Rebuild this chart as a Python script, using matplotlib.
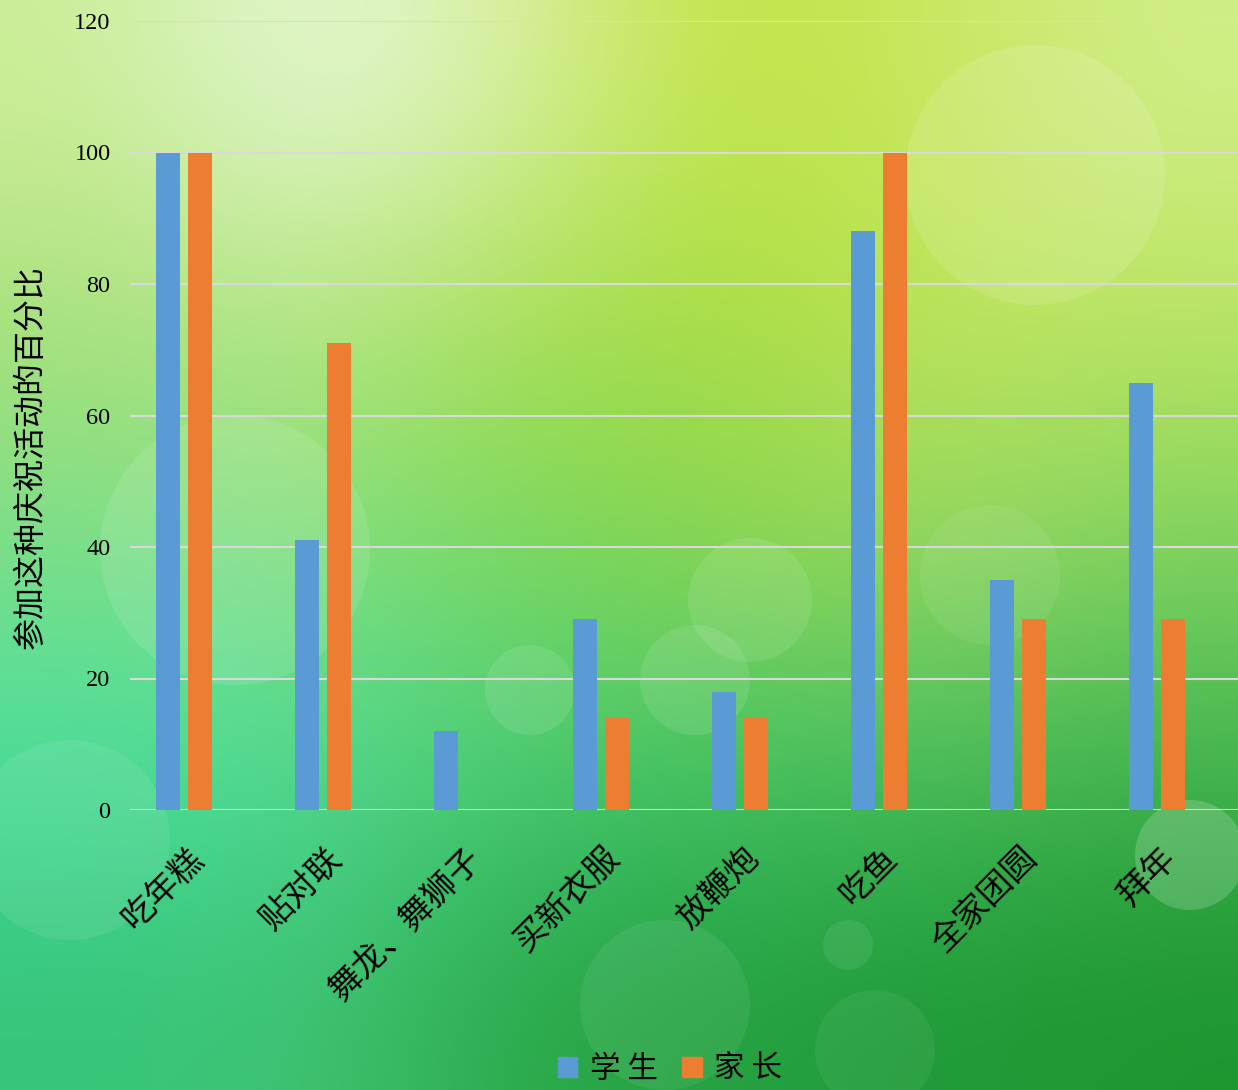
import numpy as np
import matplotlib
matplotlib.use('Agg')
from matplotlib import pyplot as plt
from matplotlib.patches import Ellipse, Patch
from matplotlib.transforms import ScaledTranslation

plt.rcParams['font.family'] = ['Noto Sans CJK SC', 'DejaVu Sans']

categories = ['吃年糕', '贴对联', '舞龙、舞狮子', '买新衣服', '放鞭炮', '吃鱼', '全家团圆', '拜年']
students = [100, 41, 12, 29, 18, 88, 35, 65]
parents = [100, 71, 0, 14, 14, 100, 29, 29]
series_names = ['学 生', '家 长']
yticks = [0, 20, 40, 60, 80, 100, 120]

blue = '#5B9BD5'
orange = '#ED7D31'

W, H = 1238, 1090
fig = plt.figure(figsize=(W / 100, H / 100), dpi=100)

# background gradient (green bokeh look), pixel coords
bg = fig.add_axes([0, 0, 1, 1], zorder=-10)
grid = np.array([
    ['#ccee98', '#e6f8da', '#d8f0a4', '#c0e440', '#c8e860', '#d0ee88'],
    ['#a8e078', '#b8e680', '#a8de50', '#a4dc40', '#c0e458', '#bce460'],
    ['#7cde88', '#84e080', '#78d860', '#8cd650', '#9ad864', '#80d460'],
    ['#48e0a0', '#50dc98', '#48cc78', '#40c468', '#48c060', '#40b450'],
    ['#36c478', '#40c474', '#2aa848', '#24a040', '#209a38', '#1e9630'],
])
rgb = np.array([[matplotlib.colors.to_rgb(c) for c in row] for row in grid])
bg.imshow(rgb, extent=[0, W, H, 0], aspect='auto', interpolation='bicubic')
for cx, cy, r, a in [(1035, 175, 130, 0.12), (235, 550, 135, 0.11), (750, 600, 62, 0.10),
                     (695, 680, 55, 0.10), (530, 690, 45, 0.10), (70, 840, 100, 0.08),
                     (665, 1005, 85, 0.07), (1190, 855, 55, 0.18), (848, 945, 25, 0.08),
                     (875, 1050, 60, 0.06), (990, 575, 70, 0.07)]:
    bg.add_patch(Ellipse((cx, cy), 2 * r, 2 * r, color='white', alpha=a, lw=0))
bg.set_xlim(0, W)
bg.set_ylim(H, 0)
bg.axis('off')

ax = fig.add_axes([130 / W, 1 - 810 / H, 1 - 130 / W, (810 - 21) / H])
ax.patch.set_alpha(0)
x = np.arange(len(categories))
w = 0.172
ax.bar(x - 0.112, students, w, color=blue, zorder=3)
ax.bar(x + 0.112, parents, w, color=orange, zorder=3)
ax.set_xlim(-54 / 139, (W - 184) / 139)
ax.set_ylim(0, 120)
ax.set_yticks(yticks)
ax.set_yticklabels([str(t) for t in yticks], family='Liberation Serif', fontsize=17.5)
ax.grid(axis='y', color='#d9d9d9', lw=1.5, zorder=1)
ax.set_axisbelow(True)
for s in ax.spines.values():
    s.set_visible(False)
ax.tick_params(axis='y', length=0, pad=14)
ax.tick_params(axis='x', length=0, pad=31)
ax.set_xticks(x)
ax.set_xticklabels(categories, rotation=45, ha='right', va='center', rotation_mode='anchor', fontsize=24)
shift = ScaledTranslation(0.14, 0, fig.dpi_scale_trans)
for lbl in ax.get_xticklabels():
    lbl.set_transform(lbl.get_transform() + shift)

fig.text(0.025, 1 - 457 / H, '参加这种庆祝活动的百分比', rotation=90, ha='center', va='center', fontsize=23)

handles = [Patch(color=blue), Patch(color=orange)]
fig.legend(handles, series_names, loc='center', bbox_to_anchor=(0.541, 0.019), ncol=2, frameon=False,
           fontsize=22, handlelength=0.65, handleheight=0.65, handletextpad=0.4, columnspacing=0.8)

fig.savefig('out.png', dpi=100)
